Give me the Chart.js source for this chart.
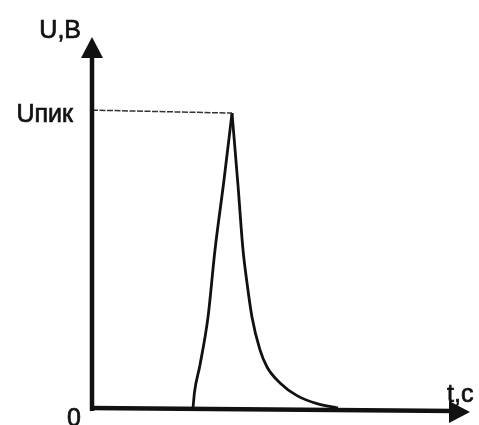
<!DOCTYPE html>
<html>
<head>
<meta charset="utf-8">
<script src="https://cdn.jsdelivr.net/npm/chart.js@4/dist/chart.umd.min.js"></script>
<style>
  body { margin: 0; background: #fff; }
  canvas { display: block; }
</style>
</head>
<body>
<canvas id="pulseChart" width="479" height="425"></canvas>
<script>
// pulse shape (t in arbitrary units, U relative to Uпик)
const riseT = [2.672, 2.712, 2.857, 3.069, 3.254, 3.492, 3.704];
const riseU = [0.0, 0.054, 0.146, 0.308, 0.536, 0.773, 1.0];
const decayT = [3.704, 3.862, 3.995, 4.101, 4.233, 4.444, 4.630, 4.974, 5.423, 5.952, 6.508];
const decayU = [1.0, 0.756, 0.536, 0.424, 0.308, 0.197, 0.139, 0.085, 0.042, 0.015, 0.0];
const peakT = 3.704;
const peakU = 1.0;

const xLabel = "t,c";
const yLabel = "U,B";
const peakLabel = "Uпик";
const originLabel = "0";

const toPoints = (ts, us) => ts.map((t, i) => ({ x: t, y: us[i] }));

// write text a little heavier, like the scanned lettering
function heavyText(ctx, text, x, y) {
	ctx.fillText(text, x, y);
	ctx.strokeText(text, x, y);
}

// draws the arrowed axes and the text labels by hand
const axesPlugin = {
	id: "axesPlugin",
	afterDatasetsDraw(chart) {
		const { ctx, scales } = chart;
		const x0 = scales.x.getPixelForValue(0);
		const y0 = scales.y.getPixelForValue(0);
		const xEnd = scales.x.getPixelForValue(scales.x.max);
		const yEnd = scales.y.getPixelForValue(scales.y.max);

		ctx.save();
		ctx.strokeStyle = "#111";
		ctx.fillStyle = "#111";
		ctx.lineWidth = 4.5;

		// y axis
		ctx.beginPath();
		ctx.moveTo(x0, y0 + 3);
		ctx.lineTo(x0, yEnd + 15);
		ctx.stroke();
		ctx.beginPath();
		ctx.moveTo(x0, yEnd);
		ctx.lineTo(x0 - 11, yEnd + 21);
		ctx.lineTo(x0 + 11, yEnd + 21);
		ctx.closePath();
		ctx.fill();

		// x axis (slightly tilted like the scan)
		ctx.beginPath();
		ctx.moveTo(x0 - 2, y0);
		ctx.lineTo(xEnd - 15, y0 + 3);
		ctx.stroke();
		ctx.beginPath();
		ctx.moveTo(xEnd, y0 + 4);
		ctx.lineTo(xEnd - 21, y0 - 7);
		ctx.lineTo(xEnd - 21, y0 + 15);
		ctx.closePath();
		ctx.fill();

		// labels
		ctx.font = "25px 'Liberation Sans', Arial, sans-serif";
		ctx.lineWidth = 0.7;
		ctx.textBaseline = "alphabetic";
		ctx.textAlign = "right";
		heavyText(ctx, yLabel, x0 - 11, yEnd + 1);
		heavyText(ctx, peakLabel, x0 - 19, scales.y.getPixelForValue(peakU) + 9);
		heavyText(ctx, originLabel, x0 - 11, y0 + 18);
		ctx.textAlign = "left";
		heavyText(ctx, xLabel, xEnd - 23, y0 - 6);
		ctx.restore();
	},
};

const ctx = document.getElementById("pulseChart").getContext("2d");
new Chart(ctx, {
	type: "scatter",
	data: {
		datasets: [
			{
				label: "Uпик level",
				data: [{ x: 0, y: peakU + 0.01 }, { x: peakT, y: peakU }],
				showLine: true,
				borderColor: "#333",
				borderWidth: 1.5,
				borderDash: [6, 1.5],
				pointRadius: 0,
			},
			{
				label: "rise",
				data: toPoints(riseT, riseU),
				showLine: true,
				borderColor: "#111",
				borderWidth: 2.8,
				cubicInterpolationMode: "monotone",
				pointRadius: 0,
			},
			{
				label: "decay",
				data: toPoints(decayT, decayU),
				showLine: true,
				borderColor: "#111",
				borderWidth: 2.8,
				cubicInterpolationMode: "monotone",
				pointRadius: 0,
			},
		],
	},
	options: {
		responsive: false,
		animation: false,
		layout: { padding: { left: 92, right: 9, top: 37, bottom: 17 } },
		scales: {
			x: { type: "linear", min: 0, max: 10, display: false },
			y: { type: "linear", min: 0, max: 1.258, display: false },
		},
		plugins: {
			legend: { display: false },
			tooltip: { enabled: false },
		},
	},
	plugins: [axesPlugin],
});
</script>
</body>
</html>
